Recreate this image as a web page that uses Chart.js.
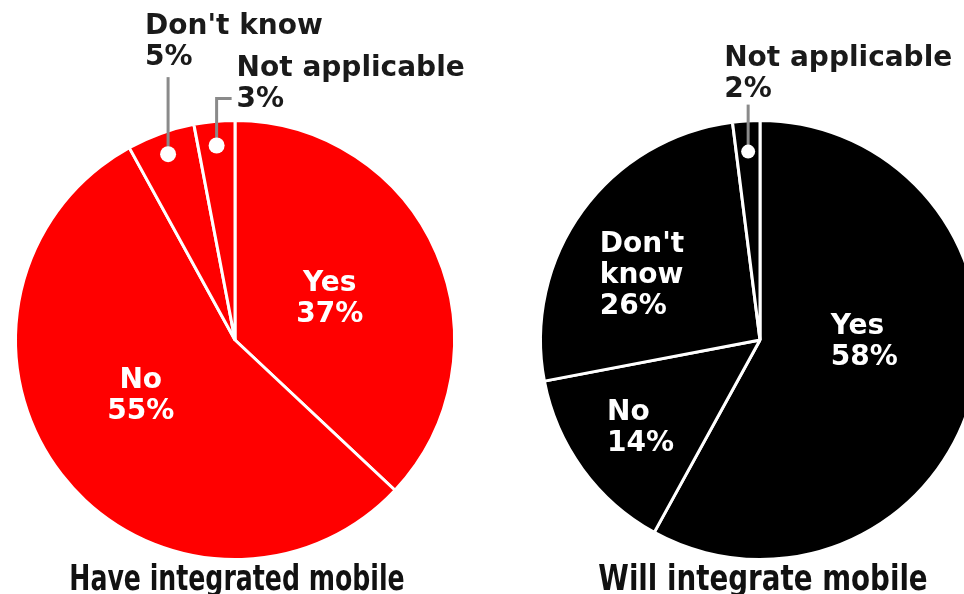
<!DOCTYPE html>
<html>
<head>
<meta charset="utf-8">
<script src="https://cdn.jsdelivr.net/npm/chart.js@4.4.1/dist/chart.umd.min.js"></script>
<style>
html,body{margin:0;padding:0;background:#fff;width:964px;height:594px;overflow:hidden;position:relative;}
.box{position:absolute;top:0;width:470px;height:594px;}
.box canvas{position:absolute;left:0;top:0;}
.title{position:absolute;top:558px;width:470px;text-align:center;font-family:"Liberation Sans Narrow","DejaVu Sans Condensed",sans-serif;font-weight:bold;font-size:35px;color:#111;white-space:nowrap;line-height:40px;transform:scaleX(0.8);transform-origin:center top;}
</style>
</head>
<body>
<div class="box" style="left:0"><canvas id="c1" width="470" height="594"></canvas></div>
<div class="box" style="left:525px"><canvas id="c2" width="470" height="594"></canvas></div>
<div class="title" id="t1" style="left:2px"></div>
<div class="title" id="t2" style="left:528px;transform:scaleX(0.88)"></div>
<script>
const categories = ["Yes", "No", "Don't know", "Not applicable"];
const haveIntegrated = [37, 55, 5, 3];
const willIntegrate = [58, 14, 26, 2];
const titles = ["Have integrated mobile", "Will integrate mobile"];

document.getElementById('t1').textContent = titles[0];
document.getElementById('t2').textContent = titles[1];

const LABEL_FONT = 'bold 28px "DejaVu Sans", sans-serif';

const pieLabels = {
  id: 'pieLabels',
  afterDatasetsDraw(chart, args, opts) {
    const ctx = chart.ctx;
    const meta = chart.getDatasetMeta(0);
    const data = chart.data.datasets[0].data;
    ctx.save();
    ctx.font = LABEL_FONT;
    meta.data.forEach((arc, i) => {
      const spec = opts.specs[i];
      if (!spec) return;
      const p = arc.getProps(['x', 'y', 'startAngle', 'endAngle', 'outerRadius'], true);
      const label = chart.data.labels[i];
      const lines = (spec.split ? label.split(' ') : [label]).concat([data[i] + '%']);
      const lh = 31;
      if (spec.type === 'inside') {
        const a = (p.startAngle + p.endAngle) / 2 + (spec.dA || 0) * Math.PI / 180;
        const cx = p.x + Math.cos(a) * p.outerRadius * spec.r;
        const cy = p.y + Math.sin(a) * p.outerRadius * spec.r;
        ctx.fillStyle = '#fff';
        ctx.textAlign = spec.align || 'center';
        ctx.textBaseline = 'middle';
        const top = cy - (lines.length - 1) * lh / 2;
        lines.forEach((t, k) => ctx.fillText(t, cx + (spec.dx || 0), top + k * lh));
      } else {
        const a = (p.startAngle + p.endAngle) / 2;
        const dx = p.x + Math.cos(a) * p.outerRadius * spec.r;
        const dy = p.y + Math.sin(a) * p.outerRadius * spec.r;
        ctx.strokeStyle = '#8a8a8a';
        ctx.lineWidth = 3;
        ctx.beginPath();
        ctx.moveTo(dx, dy);
        ctx.lineTo(dx, dy - spec.up);
        if (spec.right) ctx.lineTo(dx + spec.right, dy - spec.up);
        ctx.stroke();
        ctx.fillStyle = '#fff';
        ctx.beginPath();
        ctx.arc(dx, dy, spec.dot, 0, Math.PI * 2);
        ctx.fill();
        ctx.fillStyle = '#1a1a1a';
        ctx.textAlign = 'left';
        ctx.textBaseline = 'alphabetic';
        const tx = dx + spec.tx;
        const by = dy + spec.ty;
        lines.forEach((t, k) => ctx.fillText(t, tx, by - (lines.length - 1 - k) * lh));
      }
    });
    ctx.restore();
  }
};

function makePie(id, values, color, specs) {
  return new Chart(document.getElementById(id), {
    type: 'pie',
    data: {
      labels: categories,
      datasets: [{
        data: values,
        backgroundColor: color,
        borderColor: '#ffffff',
        borderWidth: 3,
        hoverOffset: 0
      }]
    },
    options: {
      responsive: false,
      animation: false,
      devicePixelRatio: 1,
      layout: { padding: { top: 119, bottom: 33, left: 14, right: 14 } },
      plugins: {
        legend: { display: false },
        tooltip: { enabled: false },
        title: { display: false },
        pieLabels: { specs: specs }
      }
    },
    plugins: [pieLabels]
  });
}

makePie('c1', haveIntegrated, '#ff0000', [
  { type: 'inside', r: 0.47, dA: 0 },
  { type: 'inside', r: 0.5, dA: 7 },
  { type: 'outside', r: 0.9, dot: 8, up: 77, tx: -23, ty: -89 },
  { type: 'outside', r: 0.89, dot: 8, up: 47, right: 15, tx: 20, ty: -39 }
]);
makePie('c2', willIntegrate, '#000000', [
  { type: 'inside', r: 0.45, dA: -13, align: 'left', dx: -28 },
  { type: 'inside', r: 0.72, dA: 2, align: 'left', dx: -22 },
  { type: 'inside', r: 0.6, dA: -7, align: 'left', dx: -45, split: true },
  { type: 'outside', r: 0.86, dot: 7, up: 47, tx: -24, ty: -55 }
]);
</script>
</body>
</html>
